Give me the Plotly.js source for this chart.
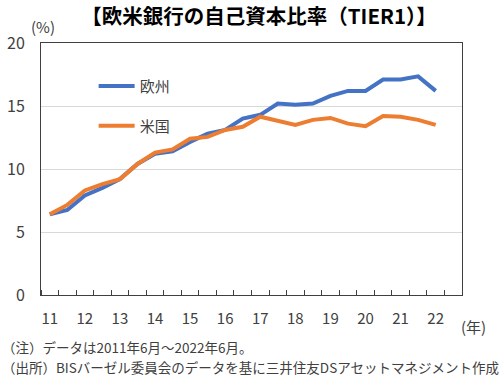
<!DOCTYPE html>
<html>
<head>
<meta charset="utf-8">
<script src="https://cdn.plot.ly/plotly-3.0.1.min.js"></script>
<style>
html,body{margin:0;padding:0;background:#fff;}
#chart{width:500px;height:382px;}
</style>
</head>
<body>
<div id="chart"></div>
<script>
// Half-yearly observations, Jun 2011 .. Jun 2022
var periods = ['2011-06','2011-12','2012-06','2012-12','2013-06','2013-12','2014-06','2014-12',
  '2015-06','2015-12','2016-06','2016-12','2017-06','2017-12','2018-06','2018-12',
  '2019-06','2019-12','2020-06','2020-12','2021-06','2021-12','2022-06'];
var europe = [6.4, 6.75, 7.9, 8.5, 9.2, 10.4, 11.2, 11.4, 12.15, 12.8, 13.1, 14.0,
  14.3, 15.2, 15.1, 15.2, 15.8, 16.2, 16.2, 17.1, 17.1, 17.35, 16.2];
var usa = [6.4, 7.15, 8.3, 8.8, 9.2, 10.4, 11.3, 11.55, 12.4, 12.55, 13.1, 13.35,
  14.15, 13.8, 13.5, 13.9, 14.05, 13.6, 13.4, 14.2, 14.15, 13.9, 13.5];
var tickLabels = ['11','12','13','14','15','16','17','18','19','20','21','22'];
var yTicks = [0, 5, 10, 15, 20];

var xIdx = periods.map(function(p, i){ return i; });
var tickPos = tickLabels.map(function(t, i){ return i * 2; });

var JP = '"Noto Sans CJK JP", "Noto Sans", sans-serif';
var axisCol = '#404040';
var textCol = '#404040';

var traces = [
  {x: xIdx, y: europe, name: '欧州', type: 'scatter', mode: 'lines',
   line: {color: '#4472C4', width: 4}, legend: 'legend'},
  {x: xIdx, y: usa, name: '米国', type: 'scatter', mode: 'lines',
   line: {color: '#ED7D31', width: 4}, legend: 'legend2'}
];

var layout = {
  width: 500, height: 382,
  margin: {l: 41, r: 38, t: 43, b: 87},
  paper_bgcolor: '#fff', plot_bgcolor: '#fff',
  font: {family: JP, color: textCol, size: 15},
  title: {text: '【欧米銀行の自己資本比率（TIER1）】', font: {family: JP, size: 20.5, color: '#000', weight: 'bold'},
    x: 0.518, xanchor: 'center', y: 0.956, yanchor: 'middle', xref: 'paper', yref: 'container'},
  showlegend: true,
  legend: {x: 0.125, y: 0.894, xanchor: 'left', yanchor: 'top', bgcolor: 'rgba(0,0,0,0)', itemwidth: 36,
    font: {family: JP, size: 15, color: textCol}},
  legend2: {x: 0.125, y: 0.736, xanchor: 'left', yanchor: 'top', bgcolor: 'rgba(0,0,0,0)', itemwidth: 36,
    font: {family: JP, size: 15, color: textCol}},
  xaxis: {
    range: [-0.5, 23.5], tickmode: 'array', tickvals: tickPos, ticktext: tickLabels,
    ticks: '', showgrid: false, zeroline: false,
    showline: true, mirror: true, linecolor: axisCol, linewidth: 1,
    tickfont: {family: JP, size: 15, color: textCol}, ticklabelstandoff: 10,
    minor: {ticks: 'inside', ticklen: 5, tickcolor: axisCol, tickwidth: 1, tickmode: 'linear', tick0: 0.5, dtick: 1, showgrid: false}
  },
  yaxis: {
    range: [0, 20], tickmode: 'array', tickvals: yTicks, ticks: '',
    showgrid: true, gridcolor: '#d9d9d9', gridwidth: 1, zeroline: false,
    showline: true, mirror: true, linecolor: axisCol, linewidth: 1,
    tickfont: {family: JP, size: 16, color: textCol}, ticklabelstandoff: 12
  },
  annotations: [
    {text: '(%)', xref: 'paper', yref: 'paper', x: -0.028, y: 1.065, xanchor: 'left', yanchor: 'middle',
     showarrow: false, font: {family: JP, size: 15, color: textCol}},
    {text: '(年)', xref: 'paper', yref: 'paper', x: 1.062, y: -0.125, xanchor: 'right', yanchor: 'middle',
     showarrow: false, font: {family: JP, size: 15, color: textCol}},
    {text: '（注）データは2011年6月～2022年6月。', xref: 'paper', yref: 'paper', x: -0.0974, y: -0.205,
     xanchor: 'left', yanchor: 'middle', showarrow: false, font: {family: JP, size: 13.5, color: textCol}},
    {text: '（出所）BISバーゼル委員会のデータを基に三井住友DSアセットマネジメント作成', xref: 'paper', yref: 'paper',
     x: -0.0974, y: -0.285, xanchor: 'left', yanchor: 'middle', showarrow: false,
     font: {family: JP, size: 13.5, color: textCol}}
  ]
};

Plotly.newPlot('chart', traces, layout, {displayModeBar: false, staticPlot: true});
</script>
</body>
</html>
